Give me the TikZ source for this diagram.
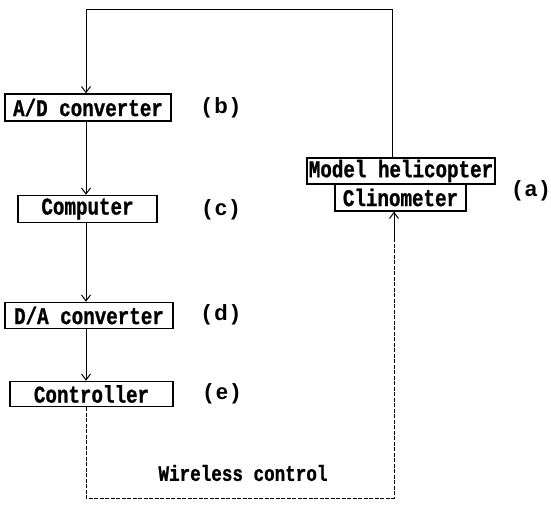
\documentclass[tikz,border=0pt]{standalone}
\usepackage{fontspec}
\usetikzlibrary{arrows.meta}
\newfontfamily\plotfont[FakeStretch=0.8,FakeBold=1]{Liberation Mono}
\newfontfamily\labfont{Liberation Sans}
\begin{document}
\begin{tikzpicture}[x=1pt,y=-1pt,
  blk/.style={draw,line width=1.4pt,inner sep=0pt,font=\plotfont\bfseries\fontsize{24}{24}\selectfont},
  lab/.style={inner sep=0pt,font=\labfont\bfseries\fontsize{22}{22}\selectfont},
  wire/.style={line width=1pt},
  arr/.style={wire,-{Straight Barb[length=6pt,width=9pt,line width=1pt]}},
  dsh/.style={wire,dash pattern=on 4pt off 1.5pt}]
\useasboundingbox (0,0) rectangle (551,507);
\node[blk,minimum width=166,minimum height=27] (ad) at (88,107.5) {A/D converter};
\node[blk,minimum width=139,minimum height=27] (comp) at (87.5,209) {Computer};
\node[blk,minimum width=168,minimum height=26] (da) at (89,315.5) {D/A converter};
\node[blk,minimum width=163,minimum height=25] (ctrl) at (91.5,394) {Controller};
\node[blk,minimum width=188,minimum height=26] (heli) at (401,171) {Model helicopter};
\node[blk,minimum width=131,minimum height=27] (clino) at (400.5,197.5) {Clinometer};
\node[lab] (lb) at (221,108) {(\hspace{4pt}b\hspace{4pt})};
\node[lab] (lc) at (221,210) {(\hspace{4pt}c\hspace{4pt})};
\node[lab] (ld) at (221,315) {(\hspace{4pt}d\hspace{4pt})};
\node[lab] (le) at (222,394) {(\hspace{4pt}e\hspace{4pt})};
\node[lab] (la) at (531,191) {(\hspace{4pt}a\hspace{4pt})};
\node[inner sep=0pt,font=\plotfont\bfseries\fontsize{22}{22}\selectfont] (wl) at (243,473) {Wireless control};
\coordinate (tl) at (86,9);
\coordinate (tr) at (392,9);
\coordinate (bl) at (86,498);
\coordinate (br) at (394,498);
\draw[arr] (tr |- heli.north) -- (tr) -- (tl) -- (tl |- ad.north);
\draw[arr] (tl |- ad.south) -- (tl |- comp.north);
\draw[arr] (tl |- comp.south) -- (tl |- da.north);
\draw[arr] (tl |- da.south) -- (tl |- ctrl.north);
\draw[dsh] (tl |- ctrl.south) -- (bl) -- (br) -- (br |- clino.south);
\draw[arr] ([yshift=-30pt]br |- clino.south) -- (br |- clino.south);
\end{tikzpicture}
\end{document}
